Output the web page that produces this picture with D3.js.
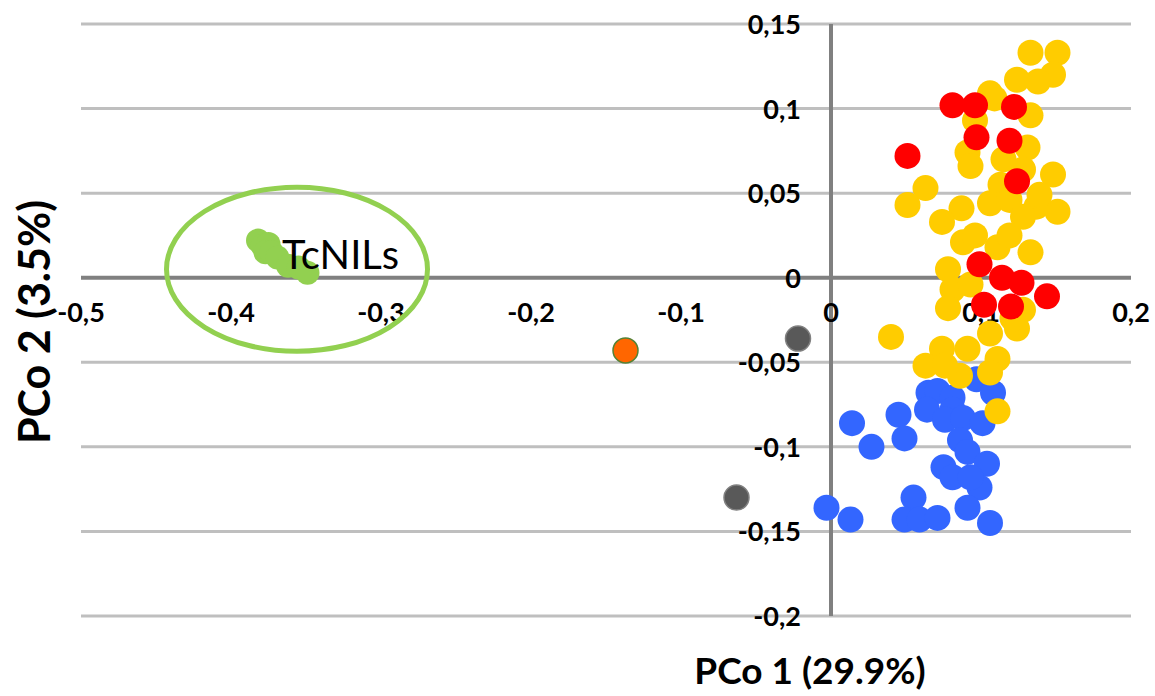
<!DOCTYPE html>
<html>
<head>
<meta charset="utf-8">
<script src="https://d3js.org/d3.v7.min.js"></script>
<style>
  body { margin: 0; background: #fff; }
  text { font-family: Lato, "Open Sans", sans-serif; }
</style>
</head>
<body>
<svg id="chart" width="1155" height="696"></svg>
<script>
// tick values
const xTicks = [-0.5, -0.4, -0.3, -0.2, -0.1, 0, 0.1, 0.2];
const yTicks = [-0.2, -0.15, -0.1, -0.05, 0, 0.05, 0.1, 0.15];

// groups of points, [PCo1, PCo2]
const bluePts = [
  [-0.003, -0.136], [0.013, -0.143], [0.014, -0.086], [0.027, -0.100], [0.045, -0.081],
  [0.049, -0.095], [0.065, -0.068], [0.071, -0.067], [0.081, -0.071], [0.081, -0.078],
  [0.064, -0.078], [0.076, -0.084], [0.088, -0.083], [0.097, -0.060], [0.108, -0.068],
  [0.101, -0.086], [0.086, -0.096], [0.091, -0.103], [0.104, -0.110], [0.075, -0.112],
  [0.081, -0.118], [0.099, -0.124], [0.093, -0.118], [0.091, -0.136], [0.106, -0.145],
  [0.055, -0.130], [0.049, -0.143], [0.059, -0.143], [0.071, -0.142]
];
const yellowPts = [
  [0.133, 0.133], [0.151, 0.133], [0.148, 0.120], [0.138, 0.116], [0.124, 0.117],
  [0.109, 0.106], [0.106, 0.109], [0.096, 0.093], [0.133, 0.096], [0.131, 0.077],
  [0.091, 0.074], [0.093, 0.066], [0.115, 0.070], [0.128, 0.064], [0.148, 0.061],
  [0.113, 0.055], [0.063, 0.053], [0.051, 0.043], [0.087, 0.041], [0.074, 0.033],
  [0.106, 0.044], [0.119, 0.046], [0.137, 0.042], [0.151, 0.039], [0.139, 0.049],
  [0.128, 0.036], [0.088, 0.021], [0.111, 0.018], [0.133, 0.015], [0.096, 0.025],
  [0.119, 0.025], [0.078, 0.005], [0.081, -0.007], [0.078, -0.018], [0.093, -0.004],
  [0.128, -0.019], [0.124, -0.030], [0.106, -0.033], [0.121, -0.024], [0.040, -0.035],
  [0.074, -0.042], [0.091, -0.042], [0.063, -0.052], [0.086, -0.058], [0.076, -0.052],
  [0.111, -0.048], [0.106, -0.056], [0.111, -0.079]
];
const redPts = [
  [0.081, 0.102], [0.096, 0.102], [0.122, 0.101], [0.051, 0.072], [0.097, 0.083],
  [0.119, 0.081], [0.124, 0.057], [0.099, 0.008], [0.114, 0.000], [0.127, -0.003],
  [0.144, -0.011], [0.102, -0.016], [0.120, -0.017]
];
const greenPts = [
  [-0.382, 0.022], [-0.379, 0.019], [-0.375, 0.020], [-0.377, 0.015], [-0.373, 0.015],
  [-0.369, 0.012], [-0.362, 0.007], [-0.355, 0.006], [-0.349, 0.003]
];
const greyPts = [[-0.022, -0.036], [-0.063, -0.130]];
const orangePts = [[-0.137, -0.043]];

// TcNILs ellipse: centre and half-sizes in data units
const tcnilsCentre = [-0.356, 0.005];
const tcnilsHalf = [0.087, 0.0485];
const tcnilsLabel = "TcNILs";

const svg = d3.select("#chart");
const x = d3.scaleLinear().domain([-0.5, 0.2]).range([81, 1131]);
const y = d3.scaleLinear().domain([-0.2, 0.15]).range([616, 24]);
const fmt = d => String(d).replace(".", ",");

// horizontal gridlines
svg.append("g")
  .selectAll("line")
  .data(yTicks.filter(d => d !== 0))
  .join("line")
  .attr("x1", x(-0.5)).attr("x2", x(0.2))
  .attr("y1", d => y(d)).attr("y2", d => y(d))
  .attr("stroke", "#bfbfbf").attr("stroke-width", 3);

// zero axes
svg.append("line")
  .attr("x1", x(-0.5)).attr("x2", x(0.2))
  .attr("y1", y(0)).attr("y2", y(0))
  .attr("stroke", "#808080").attr("stroke-width", 4);
svg.append("line")
  .attr("x1", x(0)).attr("x2", x(0))
  .attr("y1", y(0.15)).attr("y2", y(-0.2))
  .attr("stroke", "#808080").attr("stroke-width", 4);

// tick labels
svg.append("g")
  .selectAll("text")
  .data(xTicks)
  .join("text")
  .attr("x", d => x(d)).attr("y", y(0) + 44)
  .attr("text-anchor", "middle")
  .attr("font-size", 27).attr("font-weight", 700)
  .text(fmt);
svg.append("g")
  .selectAll("text")
  .data(yTicks)
  .join("text")
  .attr("x", x(0) - 30).attr("y", d => y(d) + 10)
  .attr("text-anchor", "end")
  .attr("font-size", 27).attr("font-weight", 700)
  .text(fmt);

// points
function dots(data, fill, stroke, r) {
  svg.append("g")
    .selectAll("circle")
    .data(data)
    .join("circle")
    .attr("cx", d => x(d[0])).attr("cy", d => y(d[1]))
    .attr("r", r)
    .attr("fill", fill)
    .attr("stroke", stroke)
    .attr("stroke-width", stroke === "none" ? 0 : 1.5);
}
dots(greenPts, "#92d050", "none", 12);
dots(bluePts, "#3366ff", "none", 13);
dots(yellowPts, "#ffcc00", "none", 13);
dots(redPts, "#ff0000", "none", 13);
dots(greyPts, "#595959", "#808080", 12.5);
dots(orangePts, "#ff6600", "#548235", 12.5);

// TcNILs annotation
svg.append("ellipse")
  .attr("cx", x(tcnilsCentre[0])).attr("cy", y(tcnilsCentre[1]))
  .attr("rx", x(tcnilsCentre[0] + tcnilsHalf[0]) - x(tcnilsCentre[0]))
  .attr("ry", y(tcnilsCentre[1] - tcnilsHalf[1]) - y(tcnilsCentre[1]))
  .attr("fill", "none").attr("stroke", "#92d050").attr("stroke-width", 5);
svg.append("text")
  .attr("x", 282).attr("y", 269)
  .attr("font-size", 40)
  .text(tcnilsLabel);

// axis titles
svg.append("text")
  .attr("x", 810).attr("y", 684)
  .attr("text-anchor", "middle")
  .attr("font-size", 37).attr("font-weight", 700)
  .text("PCo 1 (29.9%)");
svg.append("text")
  .attr("transform", "translate(50,322) rotate(-90)")
  .attr("text-anchor", "middle")
  .attr("font-size", 43).attr("font-weight", 700)
  .text("PCo 2 (3.5%)");
</script>
</body>
</html>
